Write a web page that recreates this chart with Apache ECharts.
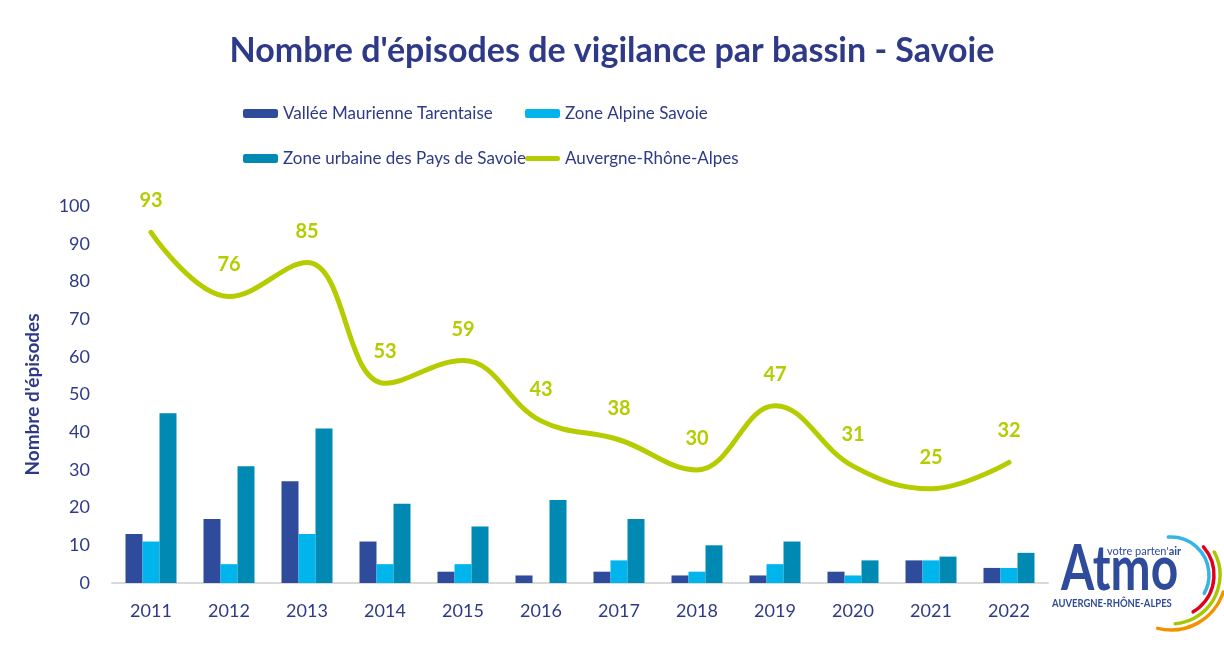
<!DOCTYPE html>
<html>
<head>
<meta charset="utf-8">
<script src="https://cdn.jsdelivr.net/npm/echarts@6/dist/echarts.min.js"></script>
<style>
  html, body { margin: 0; padding: 0; background: #fff; }
  #chart { width: 1224px; height: 645px; }
</style>
</head>
<body>
<div id="chart"></div>
<script>
// données
var years = ['2011','2012','2013','2014','2015','2016','2017','2018','2019','2020','2021','2022']
var vallee = [13,17,27,11,3,2,3,2,2,3,6,4]
var alpine = [11,5,13,5,5,0,6,3,5,2,6,4]
var urbaine = [45,31,41,21,15,22,17,10,11,6,7,8]
var aura = [93,76,85,53,59,43,38,30,47,31,25,32]

var navy = '#2e3a87'
var font = 'Lato'
var green = '#b5cc00'

var chartDom = document.querySelector('#chart')
var myChart = echarts.init(chartDom)

// logo Atmo : arcs de couleur
function arc(r, a0, a1, color) {
  return {
    type: 'arc',
    shape: { cx: 1171, cy: 575, r: r, startAngle: a0 * Math.PI / 180, endAngle: a1 * Math.PI / 180, clockwise: true },
    style: { stroke: color, lineWidth: 3.5, fill: null, lineCap: 'round' }
  }
}

var legendText = { color: navy, fontSize: 17, fontFamily: font }

var option = {
  backgroundColor: '#fff',
  title: {
    text: "Nombre d'épisodes de vigilance par bassin - Savoie",
    left: 'center',
    top: 29,
    textStyle: { color: navy, fontSize: 34, fontWeight: 'bold', fontFamily: font }
  },
  legend: [
    {
      orient: 'vertical',
      left: 238,
      top: 100,
      itemGap: 28,
      itemWidth: 35,
      itemHeight: 9,
      textStyle: legendText,
      data: ['Vallée Maurienne Tarentaise', 'Zone urbaine des Pays de Savoie']
    },
    {
      orient: 'vertical',
      left: 520,
      top: 100,
      itemGap: 28,
      itemWidth: 35,
      itemHeight: 9,
      textStyle: legendText,
      data: [
        'Zone Alpine Savoie',
        { name: 'Auvergne-Rhône-Alpes', icon: 'path://M2.5,0 L32.5,0 A2.5,2.5 0 0 1 32.5,5 L2.5,5 A2.5,2.5 0 0 1 2.5,0 Z' }
      ]
    }
  ],
  grid: { left: 112, right: 176, top: 206, bottom: 62 },
  xAxis: {
    type: 'category',
    data: years,
    axisLine: { lineStyle: { color: '#d9d9d9', width: 2 } },
    axisTick: { show: false },
    axisLabel: { color: navy, fontSize: 18, fontFamily: font, margin: 19 }
  },
  yAxis: {
    type: 'value',
    min: 0,
    max: 100,
    interval: 10,
    name: "Nombre d'épisodes",
    nameLocation: 'middle',
    nameGap: 70,
    nameTextStyle: { color: navy, fontSize: 19, fontWeight: 'bold', fontFamily: font },
    splitLine: { show: false },
    axisLine: { show: false },
    axisTick: { show: false },
    axisLabel: { color: navy, fontSize: 18, fontFamily: font, margin: 22 }
  },
  series: [
    {
      name: 'Vallée Maurienne Tarentaise',
      type: 'bar',
      data: vallee,
      barWidth: 17,
      barGap: '0%',
      itemStyle: { color: '#2f4b9b' }
    },
    {
      name: 'Zone Alpine Savoie',
      type: 'bar',
      data: alpine,
      barWidth: 17,
      barGap: '0%',
      itemStyle: { color: '#00b5ec' }
    },
    {
      name: 'Zone urbaine des Pays de Savoie',
      type: 'bar',
      data: urbaine,
      barWidth: 17,
      barGap: '0%',
      itemStyle: { color: '#0089b3' }
    },
    {
      name: 'Auvergne-Rhône-Alpes',
      type: 'line',
      data: aura,
      smooth: 0.4,
      symbol: 'circle',
      symbolSize: 1,
      showSymbol: true,
      lineStyle: { color: green, width: 5, cap: 'round' },
      itemStyle: { color: green },
      label: {
        show: true,
        position: 'top',
        distance: 21,
        color: green,
        fontSize: 20,
        fontWeight: 'bold',
        fontFamily: font
      }
    }
  ],
  graphic: [
    arc(38, -94, 29, '#36b4e5'),
    arc(43, -41, 59, '#e3001b'),
    arc(49, -28, 85, '#a9c600'),
    arc(55, 18, 104, '#f39200'),
    {
      type: 'text',
      x: 1061,
      y: 570,
      scaleX: 0.76,
      style: { text: 'Atmo', fill: '#2f4b9b', font: 'bold 63px Lato', verticalAlign: 'middle' }
    },
    {
      type: 'text',
      x: 1107,
      y: 551,
      style: {
        text: "{a|votre parten'}{b|air}",
        verticalAlign: 'middle',
        rich: {
          a: { fill: '#2f4b9b', font: '11px Lato' },
          b: { fill: '#2f4b9b', font: 'bold 11px Lato' }
        }
      }
    },
    {
      type: 'text',
      x: 1052,
      y: 603,
      scaleX: 0.86,
      style: { text: 'AUVERGNE-RHÔNE-ALPES', fill: '#2f4b9b', font: 'bold 11px Lato', verticalAlign: 'middle' }
    }
  ]
}

option && myChart.setOption(option)
</script>
</body>
</html>
